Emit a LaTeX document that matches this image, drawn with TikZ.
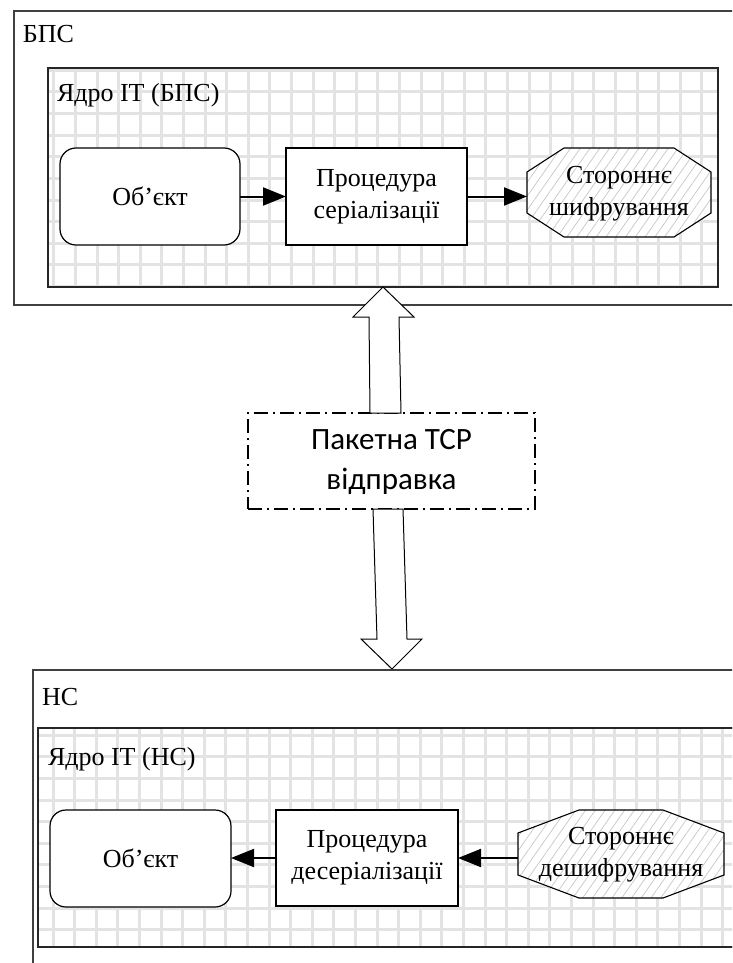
\documentclass[tikz,border=0pt]{standalone}
\usepackage{fontspec}
\setmainfont{Liberation Serif}
\newfontfamily\calfont{Carlito}
\usetikzlibrary{arrows.meta,calc,patterns.meta}

\tikzset{
  every node/.style={inner sep=0pt, outer sep=0pt},
  blk/.style={anchor=north west, inner sep=0pt, outer sep=0pt},
  txt/.style={font=\fontsize{26pt}{32pt}\selectfont, align=center},
  outerbox/.style={blk, draw=black!75, line width=1.3pt},
  corebox/.style={blk, draw=black!85, line width=1.3pt, fill=white},
  objbox/.style={blk, txt, draw=black, line width=1.2pt, fill=white, rounded corners=16pt},
  procbox/.style={blk, txt, draw=black, line width=1.2pt, fill=white},
  octline/.style={draw=black, line width=1.1pt, preaction={fill=white},
    pattern={Lines[angle=55,distance=8pt,line width=0.7pt]}, pattern color=black!22},
  gridln/.style={draw=black!11, line width=3pt},
  flow/.style={line width=2pt, -{Triangle[length=23pt,width=18pt]}},
  tcpbox/.style={blk, draw=black, line width=2pt,
    dash pattern=on 14pt off 5pt on 2pt off 5pt},
  bigarrow/.style={draw=black, line width=1pt, fill=white},
  lbl/.style={anchor=base west, font=\fontsize{26pt}{32pt}\selectfont},
}

% irregular octagon inside the bounding node #1: corner cut #2 (x), #3 (y)
\newcommand\octoutline[3]{%
  \path[octline] ($(#1.north west)+(#2,0)$) -- ($(#1.north east)+(-#2,0)$)
    -- ($(#1.north east)+(0,#3)$) -- ($(#1.south east)+(0,-#3)$)
    -- ($(#1.south east)+(-#2,0)$) -- ($(#1.south west)+(#2,0)$)
    -- ($(#1.south west)+(0,-#3)$) -- ($(#1.north west)+(0,#3)$) -- cycle;}

\begin{document}
\begin{tikzpicture}[x=1pt, y=-1pt]
\useasboundingbox (0,0) rectangle (732,963);
\clip (0,0) rectangle (732,963);

% ---------- upper system ----------
\node[outerbox, minimum width=760pt, minimum height=294pt] (bps) at (14,11) {};
\node[lbl] (bpslbl) at (23,43) {БПС};

\node[corebox, minimum width=670pt, minimum height=219pt] (core1) at (48,68) {};
\begin{scope}
  \clip (core1.north west) rectangle (core1.south east);
  \foreach \k in {-10,...,25} {
    \draw[gridln] ({248.3+21.6*\k},60) -- ({248.3+21.6*\k},300);
    \draw[gridln] (40,{92+21.6*\k}) -- (730,{92+21.6*\k});
  }
\end{scope}
\draw[black!85, line width=1.3pt] (core1.north west) rectangle (core1.south east);
\node[lbl] (core1lbl) at (57,102) {Ядро ІТ (БПС)};

\node[objbox, minimum width=180pt, minimum height=97pt] (obj1) at (60,148) {Об’єкт};
\node[procbox, minimum width=181pt, minimum height=97pt] (proc1) at (286,148)
  {Процедура\\серіалізації};
\node[blk, minimum width=184pt, minimum height=89pt] (enc1) at (527,148) {};
\octoutline{enc1}{37}{24}
\node[txt] (enc1txt) at ($(enc1.center)+(0,1)$) {Стороннє\\шифрування};

\draw[flow] (obj1.east) -- (proc1.west);
\draw[flow] (proc1.east) -- (proc1.east -| enc1.west);

% ---------- transport ----------
\node[tcpbox, minimum width=287pt, minimum height=96pt] (tcp) at (248,413) {};
\node[font=\calfont\fontsize{31pt}{40pt}\selectfont, align=center] (tcptxt)
  at ($(tcp.center)+(0,1)$) {Пакетна TCP\\відправка};

\path[bigarrow]
  ($(tcp.north)+(-21.5,0)$) -- ($(tcp.north)+(9.5,0)$)
  -- ($(tcp.north)+(7.5,-96)$) -- ($(tcp.north)+(22.5,-96)$)
  -- ($(core1.south -| tcp.north)+(-8.5,0)$)
  -- ($(tcp.north)+(-38.5,-96)$) -- ($(tcp.north)+(-22.5,-96)$) -- cycle;

% ---------- lower system ----------
\node[outerbox, minimum width=760pt, minimum height=330pt] (ns) at (33,670) {};

\path[bigarrow]
  ($(tcp.south)+(-18.5,0)$) -- ($(tcp.south)+(11.5,0)$)
  -- ($(tcp.south)+(15.5,130)$) -- ($(tcp.south)+(30.5,130)$)
  -- ($(ns.north -| tcp.south)+(0.5,-1)$)
  -- ($(tcp.south)+(-30.5,130)$) -- ($(tcp.south)+(-14.5,130)$) -- cycle;

\node[lbl] (nslbl) at (42,705) {НС};

\node[corebox, minimum width=720pt, minimum height=219pt] (core2) at (38,728) {};
\begin{scope}
  \clip (core2.north west) rectangle (core2.south east);
  \foreach \k in {-2,...,34} {
    \draw[gridln] ({53+21.6*\k},720) -- ({53+21.6*\k},960);
    \draw[gridln] (30,{908-21.6*\k}) -- (740,{908-21.6*\k});
  }
\end{scope}
\draw[black!85, line width=1.3pt] (core2.north west) rectangle (core2.south east);
\node[lbl] (core2lbl) at (48,765) {Ядро ІТ (НС)};

\node[objbox, minimum width=181pt, minimum height=97pt] (obj2) at (50,810) {Об’єкт};
\node[procbox, minimum width=182pt, minimum height=96pt] (proc2) at (276,810)
  {Процедура\\десеріалізації};
\node[blk, minimum width=206pt, minimum height=88pt] (dec2) at (518,810) {};
\octoutline{dec2}{61}{23}
\node[txt] (dec2txt) at ($(dec2.center)+(0,1)$) {Стороннє\\дешифрування};

\draw[flow] (proc2.west) -- (proc2.west -| obj2.east);
\draw[flow] (proc2.east -| dec2.west) -- (proc2.east);

\end{tikzpicture}
\end{document}
